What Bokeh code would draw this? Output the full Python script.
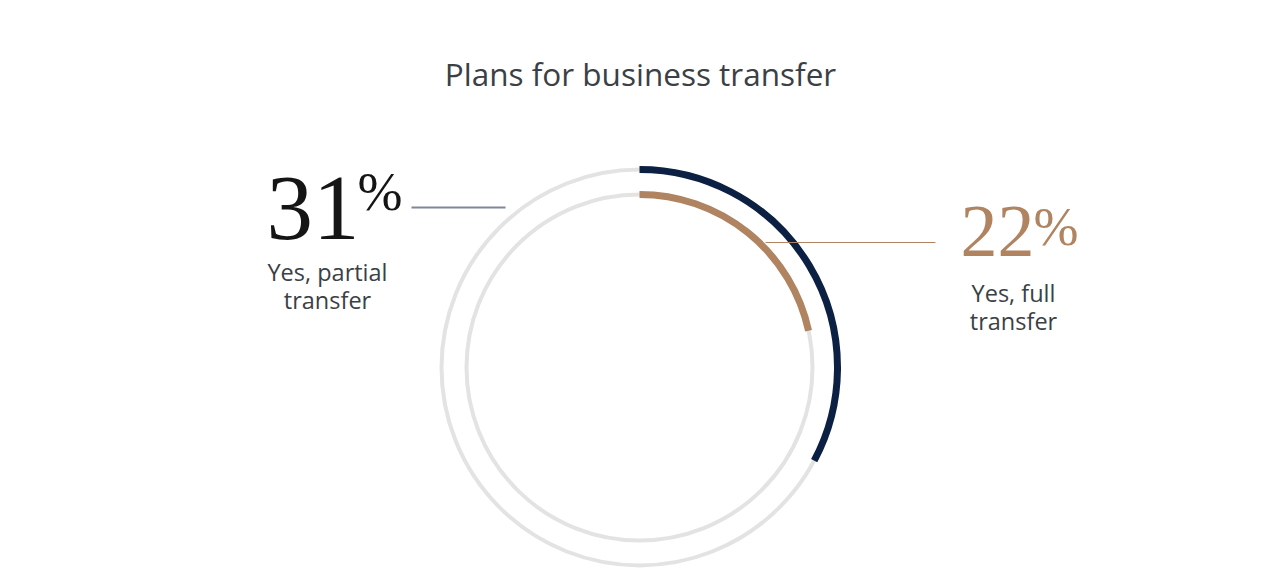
import math
from bokeh.plotting import figure
from bokeh.models import Range1d
from bokeh.embed import file_html
from bokeh.resources import INLINE
from bokeh.core.properties import value

# ---- data ----
categories = ["Yes, partial transfer", "Yes, full transfer"]
label_lines = [["Yes, partial", "transfer"], ["Yes, full", "transfer"]]
pct_labels = [31, 22]
arc_shares = [32.8, 21.6]   # arc length read from the rings (% of a full turn)
title = "Plans for business transfer"

# ---- styles / layout ----
W, H = 1264, 569
NAVY = "#0b2043"
TAN = "#b08460"
RING = "#e3e3e3"
TXT = "#3b3f46"
SANS = "Open Sans"
SERIF = "Liberation Serif"


def X(sx):
    return sx


def Y(sy):
    return H - sy


cx, cy = X(639), Y(367)
radii = [198, 173]
arc_colors = [NAVY, TAN]

p = figure(width=W, height=H, x_range=Range1d(0, W), y_range=Range1d(0, H),
           x_axis_type=None, y_axis_type=None, toolbar_location=None,
           output_backend="svg", min_border=0)
p.outline_line_color = None
p.background_fill_color = "white"

# grey track rings
for r in radii:
    p.circle(x=[cx], y=[cy], radius=r, fill_alpha=0, line_color=RING, line_width=4)

# value arcs (clockwise from 12 o'clock)
for share, r, c in zip(arc_shares, radii, arc_colors):
    start = math.pi / 2
    end = start - share / 100 * 2 * math.pi
    p.arc(x=[cx], y=[cy], radius=r, start_angle=start, end_angle=end,
          direction="clock", line_color=c, line_width=7, line_cap="butt")

# title
p.text(x=[X(640)], y=[Y(73)], text=[title], text_align="center", text_baseline="middle",
       text_font=value(SANS), text_font_size="31.5px", text_color=TXT)

# left callout (partial)
p.text(x=[X(359)], y=[Y(208)], text=[str(pct_labels[0])], text_align="right",
       text_baseline="middle", text_font=value(SERIF), text_font_size="93px",
       text_color="#151515")
p.text(x=[X(357)], y=[Y(191)], text=["%"], text_align="left",
       text_baseline="middle", text_font=value(SERIF), text_font_size="54px",
       text_color="#151515")
p.line(x=[X(411), X(505)], y=[Y(207), Y(207)], line_color="#7d8898", line_width=2)
for i, t in enumerate(label_lines[0]):
    p.text(x=[X(327)], y=[Y(271 + 28 * i)], text=[t], text_align="center",
           text_baseline="middle", text_font=value(SANS), text_font_size="23.5px",
           text_color=TXT)

# right callout (full)
p.text(x=[X(1034)], y=[Y(231)], text=[str(pct_labels[1])], text_align="right",
       text_baseline="middle", text_font=value(SERIF), text_font_size="74px",
       text_color=TAN)
p.text(x=[X(1033)], y=[Y(226)], text=["%"], text_align="left",
       text_baseline="middle", text_font=value(SERIF), text_font_size="54px",
       text_color=TAN)
p.line(x=[X(765), X(935)], y=[Y(242), Y(242)], line_color=TAN, line_width=1)
for i, t in enumerate(label_lines[1]):
    p.text(x=[X(1013)], y=[Y(292 + 28 * i)], text=[t], text_align="center",
           text_baseline="middle", text_font=value(SANS), text_font_size="23.5px",
           text_color=TXT)

open("out.html", "w").write(file_html(p, INLINE))
